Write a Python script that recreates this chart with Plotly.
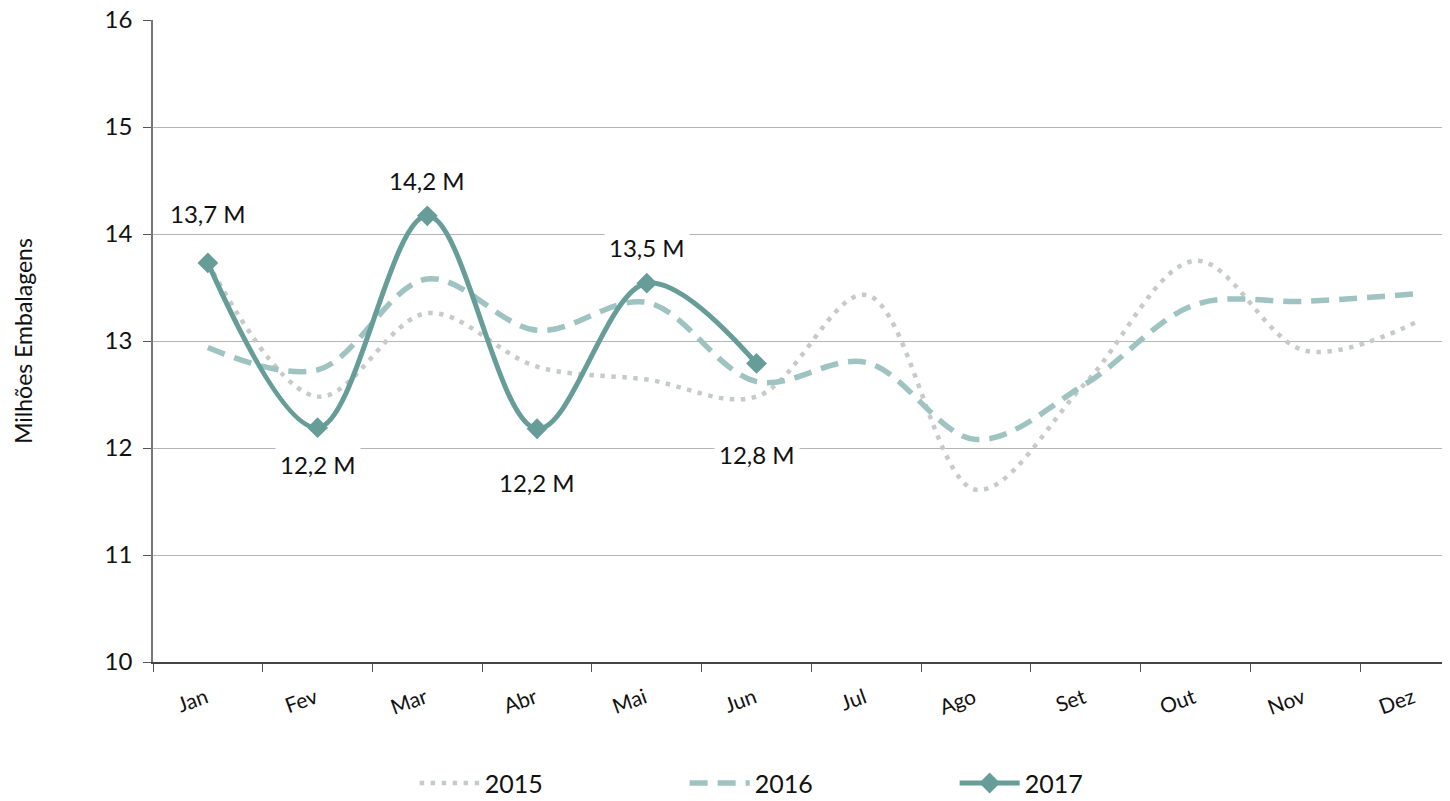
import plotly.graph_objects as go

months = ["Jan", "Fev", "Mar", "Abr", "Mai", "Jun", "Jul", "Ago", "Set", "Out", "Nov", "Dez"]
v2015 = [13.73, 12.48, 13.26, 12.76, 12.64, 12.48, 13.43, 11.61, 12.61, 13.75, 12.91, 13.17]
v2016 = [12.94, 12.73, 13.58, 13.10, 13.36, 12.62, 12.80, 12.08, 12.60, 13.34, 13.37, 13.44]
v2017 = [13.73, 12.19, 14.17, 12.18, 13.54, 12.79]
labels2017 = ["13,7 M", "12,2 M", "14,2 M", "12,2 M", "13,5 M", "12,8 M"]
label_shift = [49, -37, 35, -54, 36, -91]
y_ticks = [10, 11, 12, 13, 14, 15, 16]

FONT = "Lato"
fig = go.Figure()
fig.add_trace(go.Scatter(
    x=months, y=v2015, name="2015", mode="lines",
    line=dict(color="#C6CBC9", width=4.5, dash="4.5px,6.5px", shape="spline", smoothing=1.0),
))
fig.add_trace(go.Scatter(
    x=months, y=v2016, name="2016", mode="lines",
    line=dict(color="#9FC3C1", width=5.5, dash="18px,10px", shape="spline", smoothing=1.0),
))
fig.add_trace(go.Scatter(
    x=months[:len(v2017)], y=v2017, name="2017", mode="lines+markers",
    line=dict(color="#679D99", width=5, shape="spline", smoothing=1.0),
    marker=dict(symbol="diamond", size=16, color="#679D99"),
))

for m, v, t, s in zip(months, v2017, labels2017, label_shift):
    fig.add_annotation(x=m, y=v, text=t, showarrow=False, yshift=s,
                       font=dict(family=FONT, size=24, color="#111111"),
                       bgcolor="white", borderpad=4)

fig.update_layout(
    width=1442, height=793,
    margin=dict(l=145, r=0, t=12, b=139, autoexpand=False),
    paper_bgcolor="white", plot_bgcolor="white",
    font=dict(family=FONT, color="#111111"),
    showlegend=True,
    legend=dict(orientation="h", x=0.514, xanchor="center", y=-0.153, yanchor="top",
                font=dict(family=FONT, size=25, color="#111111"),
                itemwidth=60, tracegroupgap=0, entrywidthmode="pixels", entrywidth=195),
)
fig.update_xaxes(
    type="category", range=[-0.5, 11.32], automargin=False,
    tickson="boundaries", ticks="outside", ticklen=8, tickcolor="#555555",
    showline=True, linecolor="#444444", linewidth=1.5,
    showgrid=False, tickangle=-20, ticklabelshift=-2, ticklabelstandoff=14,
    tickfont=dict(family=FONT, size=21, color="#111111"),
)
fig.update_yaxes(
    range=[10, 16], tickvals=y_ticks, ticks="outside", ticklen=8, tickcolor="#555555",
    automargin=False, ticklabeloverflow="allow",
    showline=True, linecolor="#777777", linewidth=1.5, ticklabelstandoff=6,
    showgrid=True, gridcolor="#B5B5B5", gridwidth=1, zeroline=False,
    tickfont=dict(family=FONT, size=24, color="#111111"),
    title=dict(text="Milhões Embalagens", font=dict(family=FONT, size=23, color="#111111"), standoff=66),
)
fig.write_html("out.html")
